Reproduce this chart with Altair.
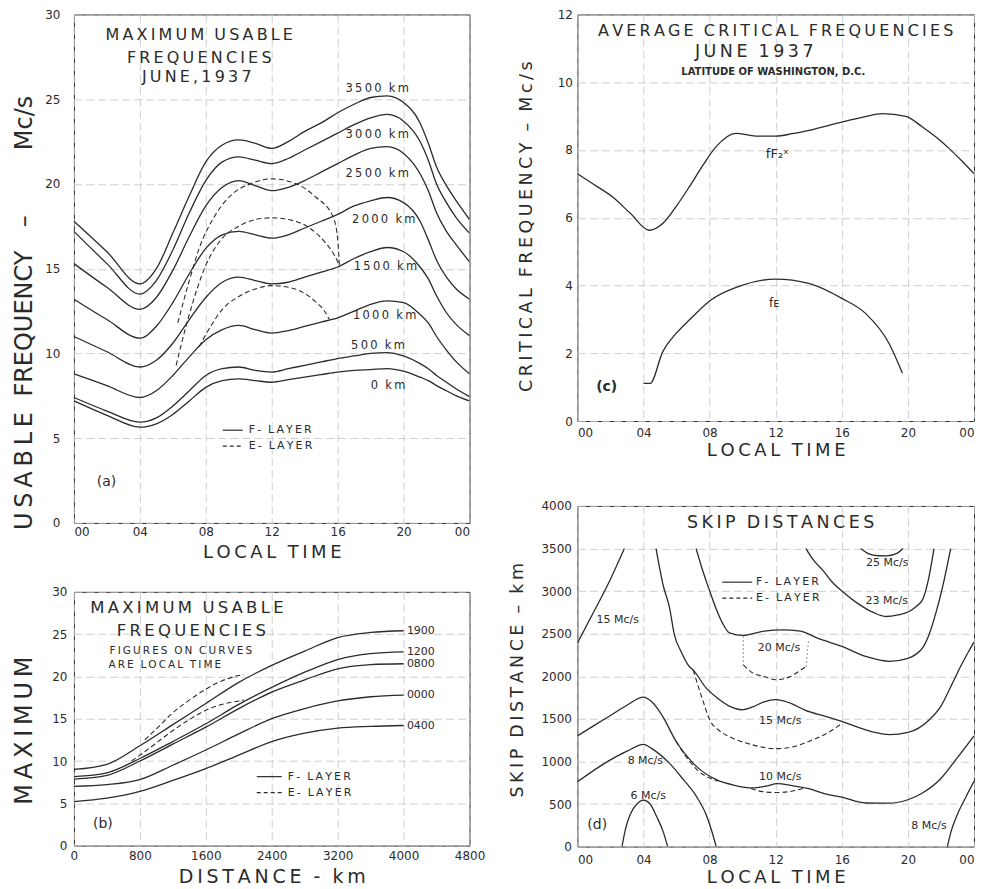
import altair as alt
import pandas as pd

FONT = "DejaVu Sans"
INK = "#2b2b2b"
GRID = "#c4c4c4"
TIME_TICKS = [0, 4, 8, 12, 16, 20, 24]
TIME_LABELS = "datum.value == 24 ? '00' : (datum.value < 10 ? '0' + datum.value : '' + datum.value)"


def spaced(s):
    """Open up the lettering like the original drafting: thin spaces between glyphs,
    wider (non-collapsing) gaps between words."""
    out = []
    for i, ch in enumerate(s):
        if ch == " ":
            out.append("\u00a0\u00a0")
            continue
        out.append(ch)
        if i + 1 < len(s) and s[i + 1] != " ":
            out.append("\u2009")
    return "".join(out)


# ---------------- panel (a): MUF vs local time, by distance ----------------
A_HOURS = [0, 2, 4, 5, 6, 7, 8, 9, 10, 11, 12, 13, 14, 15, 16, 17, 18, 19, 20, 21, 21.5, 22, 22.6, 23.2, 24]
A_3500 = [17.8, 16.0, 14.1, 15.0, 17.1, 19.3, 21.3, 22.3, 22.6, 22.4, 22.1, 22.5, 23.1, 23.6, 24.2, 24.7, 25.1, 25.2, 24.8, 23.6, 22.4, 21.0, 19.9, 19.0, 17.9]
A_3000 = [17.2, 15.3, 13.5, 14.3, 16.1, 18.3, 20.2, 21.3, 21.6, 21.4, 21.2, 21.5, 22.0, 22.5, 23.0, 23.5, 23.9, 24.1, 23.7, 22.5, 21.4, 20.0, 18.9, 18.0, 17.1]
A_2500 = [15.3, 13.9, 12.6, 13.3, 14.9, 16.9, 18.7, 19.8, 20.2, 19.9, 19.6, 19.8, 20.2, 20.7, 21.2, 21.7, 22.1, 22.2, 21.8, 20.6, 19.6, 18.3, 17.2, 16.4, 15.4]
A_2000 = [13.2, 12.0, 10.9, 11.6, 13.0, 14.7, 16.2, 17.0, 17.2, 17.0, 16.8, 17.0, 17.4, 17.8, 18.2, 18.7, 19.0, 19.2, 18.9, 17.8, 16.7, 15.5, 14.5, 13.8, 13.2]
A_1500 = [11.0, 10.1, 9.2, 9.6, 10.6, 12.0, 13.3, 14.2, 14.5, 14.3, 14.1, 14.2, 14.5, 14.8, 15.1, 15.6, 16.0, 16.25, 16.0, 15.1, 14.4, 13.4, 12.4, 11.7, 11.05]
A_1000 = [8.8, 8.1, 7.4, 7.8, 8.7, 9.8, 10.8, 11.4, 11.65, 11.4, 11.2, 11.35, 11.6, 11.85, 12.1, 12.5, 12.9, 13.1, 13.0, 12.3, 11.8, 11.0, 10.2, 9.5, 8.8]
A_500 = [7.4, 6.6, 5.95, 6.2, 6.9, 7.8, 8.7, 9.1, 9.2, 9.0, 8.9, 9.1, 9.3, 9.5, 9.7, 9.85, 10.0, 10.05, 9.85, 9.4, 9.1, 8.7, 8.3, 7.9, 7.45]
A_0 = [7.2, 6.35, 5.65, 5.85, 6.4, 7.2, 8.0, 8.4, 8.5, 8.4, 8.3, 8.45, 8.6, 8.75, 8.9, 9.0, 9.05, 9.1, 8.95, 8.6, 8.4, 8.1, 7.8, 7.5, 7.2]

A_E_OUTER_H = [6.3, 7.0, 7.6, 8.6, 9.6, 10.7, 12.0, 13.5, 14.7, 15.7, 16.0, 16.1]
A_E_OUTER_V = [11.8, 14.3, 16.2, 18.2, 19.4, 20.0, 20.3, 20.0, 19.2, 18.1, 16.8, 15.2]
A_E_MID_H = [6.2, 7.0, 8.0, 9.0, 10.0, 11.0, 12.0, 13.0, 14.3, 15.2, 15.8, 16.1]
A_E_MID_V = [9.3, 12.3, 15.2, 16.8, 17.5, 17.9, 18.0, 17.9, 17.4, 16.6, 15.8, 15.2]
A_E_LOW_H = [7.6, 8.3, 9.0, 9.9, 11.0, 12.0, 13.0, 13.7, 14.6, 15.2, 15.5]
A_E_LOW_V = [10.4, 11.6, 12.6, 13.3, 13.8, 14.0, 13.9, 13.7, 13.1, 12.5, 12.0]

A_CURVE_LABELS = ["3500 km", "3000 km", "2500 km", "2000 km", "1500 km", "1000 km", "500 km", "0 km"]
A_CURVE_LABEL_H = [18.4, 18.4, 18.4, 18.8, 18.9, 18.85, 18.45, 19.06]
A_CURVE_LABEL_V = [25.6, 22.9, 20.6, 17.9, 15.1, 12.2, 10.43, 8.1]
A_TITLE = ["MAXIMUM USABLE", "FREQUENCIES", "JUNE,1937"]
A_TITLE_H = [7.6, 7.6, 7.45]
A_TITLE_V = [28.76, 27.45, 26.3]

# shared rotated left title, word by word (y in each panel's own units)
LEFT_WORDS_A = ["Mc/s", "–", "FREQUENCY", spaced("USABLE")]
LEFT_WORDS_A_V = [23.6, 17.8, 11.76, 3.06]
LEFT_WORDS_B = [spaced("MAXIMUM")]
LEFT_WORDS_B_V = [13.6]

# ---------------- panel (b): MUF vs distance, by local time ----------------
B_DIST = [0, 400, 800, 1200, 1600, 2000, 2400, 2800, 3200, 3600, 4000]
B_1900 = [9.0, 9.6, 11.8, 14.3, 16.8, 19.3, 21.3, 23.0, 24.6, 25.2, 25.4]
B_1200 = [8.15, 8.6, 10.3, 12.3, 14.4, 16.7, 18.7, 20.5, 22.0, 22.7, 22.9]
B_0800 = [7.85, 8.3, 10.0, 12.0, 14.0, 16.2, 18.15, 19.6, 20.9, 21.4, 21.5]
B_0000 = [7.0, 7.2, 7.8, 9.5, 11.3, 13.2, 15.0, 16.2, 17.1, 17.6, 17.8]
B_0400 = [5.2, 5.6, 6.4, 7.7, 9.1, 10.7, 12.3, 13.3, 13.9, 14.1, 14.2]
B_E_UP_D = [860, 1000, 1200, 1400, 1600, 1800, 2000, 2060]
B_E_UP_V = [12.5, 13.8, 15.7, 17.2, 18.5, 19.5, 20.1, 20.2]
B_E_LO_D = [700, 900, 1200, 1400, 1600, 1800, 2000, 2060]
B_E_LO_V = [10.0, 11.4, 13.6, 14.9, 16.0, 16.7, 17.1, 17.2]
B_CURVE_LABELS = ["1900", "1200", "0800", "0000", "0400"]
B_CURVE_LABEL_V = [25.4, 22.85, 21.5, 17.85, 14.15]

# ---------------- panel (c): critical frequencies ----------------
C_F2_H = [0, 1, 2.14, 3.2, 4.35, 5.16, 6, 6.77, 7.6, 8.38, 9.6, 10.8, 12, 13, 14.03, 16.04, 17.3, 18.46, 19.87, 20.88, 21.7, 22.5, 23.3, 24]
C_F2_V = [7.30, 6.98, 6.61, 6.13, 5.63, 5.83, 6.35, 6.91, 7.55, 8.09, 8.49, 8.41, 8.41, 8.48, 8.58, 8.83, 8.97, 9.07, 8.99, 8.68, 8.38, 8.04, 7.66, 7.30]
C_E_H = [4.0, 4.4, 5.16, 6.0, 6.77, 8.08, 10.0, 12.0, 14.0, 16.0, 17.45, 18.86, 19.67]
C_E_V = [1.11, 1.11, 2.04, 2.6, 2.98, 3.57, 4.01, 4.19, 4.06, 3.62, 3.17, 2.29, 1.41]

# ---------------- panel (d): skip distances ----------------
D_F6_H = [2.7, 2.9, 3.2, 3.6, 4.0, 4.4, 4.8, 5.2, 5.46]
D_F6_KM = [0, 200, 380, 500, 545, 500, 350, 170, 0]
D_F8A_H = [0, 1.5, 3.0, 4.0, 4.5, 5.56, 6.4, 7.2, 7.8, 8.1, 8.4]
D_F8A_KM = [760, 960, 1120, 1200, 1150, 980, 790, 590, 370, 200, 0]
D_F8B_H = [22.39, 22.6, 23.0, 23.5, 24.0]
D_F8B_KM = [0, 170, 380, 580, 766]
D_F10_H = [0, 1, 2, 3, 4, 4.5, 5.16, 5.97, 7.2, 8.4, 9.5, 10.6, 11.4, 12.1, 13.0, 14.0, 15.0, 16.0, 17.45, 18.86, 20.0, 20.88, 22.0, 22.9, 24]
D_F10_KM = [1300, 1420, 1540, 1660, 1756, 1700, 1529, 1235, 942, 786, 720, 689, 710, 739, 715, 680, 620, 580, 512, 510, 550, 630, 800, 1020, 1300]
D_F15A_H = [0, 1.0, 2.0, 2.84]
D_F15A_KM = [2390, 2760, 3140, 3500]
D_F15B_H = [4.76, 5.2, 5.56, 5.87, 6.3, 6.77, 7.0, 7.8, 8.6, 9.3, 9.95, 10.6, 11.3, 12.0, 12.8, 13.8, 15.0, 16.0, 17.0, 18.0, 18.9, 20.0, 21.3, 22.0, 22.6, 23.2, 23.7, 24.0]
D_F15B_KM = [3500, 3060, 2819, 2487, 2280, 2115, 2075, 1860, 1725, 1640, 1607, 1640, 1700, 1725, 1690, 1600, 1530, 1470, 1400, 1340, 1314, 1340, 1490, 1650, 1880, 2120, 2300, 2400]
D_F20_H = [7.18, 7.6, 7.98, 8.4, 8.78, 9.2, 10.0, 11.3, 12.4, 13.5, 14.5, 16.0, 17.5, 18.9, 20.0, 20.5, 20.88, 21.3, 21.69, 22.1, 22.59]
D_F20_KM = [3500, 3230, 3015, 2790, 2624, 2510, 2480, 2530, 2545, 2530, 2450, 2350, 2230, 2175, 2210, 2260, 2330, 2500, 2741, 3050, 3500]
D_F23_H = [13.83, 14.3, 14.83, 15.4, 16.04, 17.0, 17.9, 18.66, 19.4, 20.07, 20.5, 20.88, 21.2, 21.58]
D_F23_KM = [3500, 3360, 3250, 3110, 2995, 2850, 2750, 2702, 2720, 2760, 2820, 2897, 3100, 3500]
D_F25_H = [17.15, 17.6, 18.2, 18.7, 19.3, 19.7]
D_F25_KM = [3500, 3440, 3415, 3414, 3440, 3500]
D_E10A_H = [5.97, 6.6, 7.3, 8.0, 8.5]
D_E10A_KM = [1235, 1050, 890, 805, 770]
D_E10B_H = [10.5, 11.2, 12.0, 12.8, 13.7]
D_E10B_KM = [682, 645, 635, 645, 685]
D_E15_H = [7.0, 7.58, 8.0, 8.6, 9.2, 10.5, 12.0, 13.0, 14.0, 15.0, 16.04]
D_E15_KM = [2075, 1724, 1490, 1360, 1290, 1200, 1150, 1170, 1235, 1320, 1450]
D_E20_H = [10.04, 10.6, 11.3, 12.0, 12.8, 13.5, 13.83]
D_E20_KM = [2135, 2040, 1997, 1959, 1990, 2070, 2115]
D_E20_LEFT_H = [10.04, 10.04]
D_E20_LEFT_KM = [2467, 2135]
D_E20_RIGHT_H = [13.83, 14.0]
D_E20_RIGHT_KM = [2115, 2440]
D_LABELS = ["25 Mc/s", "23 Mc/s", "20 Mc/s", "15 Mc/s", "15 Mc/s", "10 Mc/s", "8 Mc/s", "6 Mc/s", "8 Mc/s"]
D_LABEL_H = [18.75, 18.72, 12.2, 2.44, 12.27, 12.27, 4.11, 4.29, 21.28]
D_LABEL_KM = [3331, 2878, 2331, 2663, 1478, 821, 1009, 598, 246]


# ---------------- helpers ----------------
def long_df(curves):
    rows = []
    for name, xs, ys in curves:
        for i, (x, y) in enumerate(zip(xs, ys)):
            rows.append({"curve": name, "i": i, "x": x, "y": y})
    return pd.DataFrame(rows)


def text_df(items):
    return pd.DataFrame([{"t": t, "x": x, "y": y, "fs": fs} for t, x, y, fs in items])


def sc(dom):
    return alt.Scale(domain=dom, nice=False, zero=False)


class Panel:
    def __init__(self, xdom, ydom, xaxis, yaxis):
        self.xdom, self.ydom, self.xaxis, self.yaxis = xdom, ydom, xaxis, yaxis

    def X(self, f="x"):
        return alt.X(f + ":Q", scale=sc(self.xdom), axis=self.xaxis)

    def Y(self, f="y"):
        return alt.Y(f + ":Q", scale=sc(self.ydom), axis=self.yaxis)

    def lines(self, df, dash=None, interp="monotone", width=1.3):
        kw = dict(color=INK, strokeWidth=width, interpolate=interp, clip=True)
        if dash:
            kw["strokeDash"] = dash
        return alt.Chart(df).mark_line(**kw).encode(
            x=self.X(), y=self.Y(), detail="curve:N", order="i:Q")

    def texts(self, df, align="center", weight="normal"):
        return alt.Chart(df).mark_text(font=FONT, color=INK, align=align, baseline="middle",
                                       fontWeight=weight).encode(
            x=self.X(), y=self.Y(), text="t:N", size=alt.Size("fs:Q", scale=None))

    def side_words(self, words, values):
        df = pd.DataFrame({"t": words, "y": values})
        return alt.Chart(df).mark_text(font=FONT, color=INK, fontSize=24, angle=270,
                                       align="center", baseline="alphabetic").encode(
            x=alt.value(-42), y=self.Y(), text="t:N")

    def rule(self, x1, x2, y, dash=None):
        kw = dict(color=INK, strokeWidth=1.2)
        if dash:
            kw["strokeDash"] = dash
        df = pd.DataFrame({"x": [x1], "x2": [x2], "y": [y]})
        return alt.Chart(df).mark_rule(**kw).encode(x=self.X(), x2="x2:Q", y=self.Y())


def time_axis(title_y, pad):
    return alt.Axis(values=TIME_TICKS, labelExpr=TIME_LABELS, title=spaced("LOCAL TIME"),
                    titleY=title_y, titleBaseline="alphabetic", labelPadding=pad,
                    labelFlush=True, titleFontSize=18)


def value_axis(values, pad, **kw):
    return alt.Axis(values=values, labelPadding=pad, labelFlush=False, format="d", **kw)


def sp_items(items):
    return [(spaced(t), x, y, fs) for t, x, y, fs in items]


DASH = [5, 3]

# ---------------- panel (a) ----------------
pa = Panel([0, 24], [0, 30], time_axis(35, 4),
           value_axis([0, 5, 10, 15, 20, 25, 30], 14, title=None))
a_solid = long_df([(n, A_HOURS, v) for n, v in zip(
    ["3500", "3000", "2500", "2000", "1500", "1000", "500", "0"],
    [A_3500, A_3000, A_2500, A_2000, A_1500, A_1000, A_500, A_0])])
a_dash = long_df([("outer", A_E_OUTER_H, A_E_OUTER_V), ("mid", A_E_MID_H, A_E_MID_V),
                  ("low", A_E_LOW_H, A_E_LOW_V)])
a_txt = text_df(sp_items(list(zip(A_CURVE_LABELS, A_CURVE_LABEL_H, A_CURVE_LABEL_V, [11.5] * 8))
                         + list(zip(A_TITLE, A_TITLE_H, A_TITLE_V, [16] * 3)))
                + [("(a)", 1.98, 2.43, 14)])
a_leg_txt = text_df(sp_items([("F- LAYER", 10.6, 5.47, 11), ("E- LAYER", 10.6, 4.53, 11)]))
panel_a = alt.layer(
    pa.lines(a_solid),
    pa.lines(a_dash, dash=DASH, width=1.1),
    pa.texts(a_txt),
    pa.texts(a_leg_txt, align="left"),
    pa.rule(9.03, 10.24, 5.47),
    pa.rule(9.03, 10.24, 4.53, dash=[4, 3]),
    pa.side_words(LEFT_WORDS_A, LEFT_WORDS_A_V),
).properties(width=396, height=509)

# ---------------- panel (b) ----------------
pb = Panel([0, 4800], [0, 30],
           alt.Axis(values=[0, 800, 1600, 2400, 3200, 4000, 4800], format="d",
                    title=spaced("DISTANCE - km"),
                    titleFontSize=19, titleY=37, titleBaseline="alphabetic", labelPadding=5,
                    labelFlush=False),
           value_axis([0, 5, 10, 15, 20, 25, 30], 7, title=None))
b_solid = long_df([(n, B_DIST, v) for n, v in zip(B_CURVE_LABELS, [B_1900, B_1200, B_0800, B_0000, B_0400])])
b_dash = long_df([("up", B_E_UP_D, B_E_UP_V), ("lo", B_E_LO_D, B_E_LO_V)])
b_txt = text_df(sp_items([("MAXIMUM USABLE", 1370, 28.1, 16.5), ("FREQUENCIES", 1424, 25.4, 16.5),
                          ("FIGURES ON CURVES", 1297, 23.0, 10.5), ("ARE LOCAL TIME", 1103, 21.3, 10.5)])
                + [("(b)", 351, 2.6, 14)])
b_lab = text_df(list(zip(B_CURVE_LABELS, [4040] * 5, B_CURVE_LABEL_V, [11] * 5))
                + sp_items([("F- LAYER", 2594, 8.15, 11), ("E- LAYER", 2594, 6.27, 11)]))
panel_b = alt.layer(
    pb.lines(b_solid),
    pb.lines(b_dash, dash=DASH, width=1.1),
    pb.texts(b_txt),
    pb.texts(b_lab, align="left"),
    pb.rule(2218, 2521, 8.15),
    pb.rule(2218, 2521, 6.27, dash=[4, 3]),
    pb.side_words(LEFT_WORDS_B, LEFT_WORDS_B_V),
).properties(width=396, height=254)

# ---------------- panel (c) ----------------
pc = Panel([0, 24], [0, 12], time_axis(35, 6),
           value_axis([0, 2, 4, 6, 8, 10, 12], 5,
                      title=spaced("CRITICAL FREQUENCY – Mc/s"), titleFontSize=17.5, titleAngle=270,
                      titleX=-46, titleY=212, titleAlign="center", titleBaseline="alphabetic"))
c_solid = long_df([("F2", C_F2_H, C_F2_V), ("E", C_E_H, C_E_V)])
c_txt = text_df(sp_items([("AVERAGE CRITICAL FREQUENCIES", 12.0, 11.5, 16), ("JUNE 1937", 10.7, 10.89, 17.5)])
                + [("fF₂ˣ", 12.1, 7.87, 13), ("fᴇ", 11.9, 3.49, 12)])
c_bold = text_df([("LATITUDE OF WASHINGTON, D.C.", 11.85, 10.29, 10), ("(c)", 1.77, 1.01, 14)])
panel_c = alt.layer(
    pc.lines(c_solid),
    pc.texts(c_txt),
    pc.texts(c_bold, weight="bold"),
).properties(width=397, height=407)

# ---------------- panel (d) ----------------
pd_ = Panel([0, 24], [0, 4000], time_axis(36, 8),
            value_axis(list(range(0, 4001, 500)), 6,
                       title=spaced("SKIP DISTANCE – km"), titleFontSize=17.5, titleAngle=270,
                       titleX=-55, titleY=174, titleAlign="center", titleBaseline="alphabetic"))
d_solid = long_df([("6", D_F6_H, D_F6_KM), ("8a", D_F8A_H, D_F8A_KM), ("8b", D_F8B_H, D_F8B_KM),
                   ("10", D_F10_H, D_F10_KM), ("15a", D_F15A_H, D_F15A_KM), ("15b", D_F15B_H, D_F15B_KM),
                   ("20", D_F20_H, D_F20_KM), ("23", D_F23_H, D_F23_KM), ("25", D_F25_H, D_F25_KM)])
d_dash = long_df([("e10a", D_E10A_H, D_E10A_KM), ("e10b", D_E10B_H, D_E10B_KM),
                  ("e15", D_E15_H, D_E15_KM), ("e20", D_E20_H, D_E20_KM)])
d_dot = long_df([("l", D_E20_LEFT_H, D_E20_LEFT_KM), ("r", D_E20_RIGHT_H, D_E20_RIGHT_KM)])
d_txt = text_df(list(zip(D_LABELS, D_LABEL_H, D_LABEL_KM, [11] * 9))
                + sp_items([("SKIP DISTANCES", 12.3, 3804, 17.5)]) + [("(d)", 1.2, 258, 14)])
d_leg = text_df(sp_items([("F- LAYER", 10.8, 3105, 11), ("E- LAYER", 10.8, 2917, 11)]))
panel_d = alt.layer(
    pd_.lines(d_solid),
    pd_.lines(d_dash, dash=DASH, width=1.1),
    pd_.lines(d_dot, dash=[1, 3], interp="linear", width=1.0),
    pd_.texts(d_txt),
    pd_.texts(d_leg, align="left"),
    pd_.rule(8.77, 10.58, 3105),
    pd_.rule(8.77, 10.58, 2917, dash=[4, 3]),
).properties(width=397, height=341)

left = alt.VConcatChart(vconcat=[panel_a, panel_b], spacing=22)
right = alt.VConcatChart(vconcat=[panel_c, panel_d], spacing=38)

chart = alt.HConcatChart(hconcat=[left, right], spacing=22).properties(
    padding={"left": 4, "top": -1, "right": 0, "bottom": 0}
).configure(font=FONT).configure_view(stroke=INK, strokeWidth=1).configure_axis(
    grid=True, gridColor=GRID, gridDash=[8, 4], gridWidth=0.8, domain=False, ticks=False,
    labelFont=FONT, labelColor=INK, labelFontSize=12, titleFont=FONT, titleColor=INK,
    titleFontWeight="normal"
)

chart.save("out.html", embed_options={"renderer": "svg", "actions": False})
